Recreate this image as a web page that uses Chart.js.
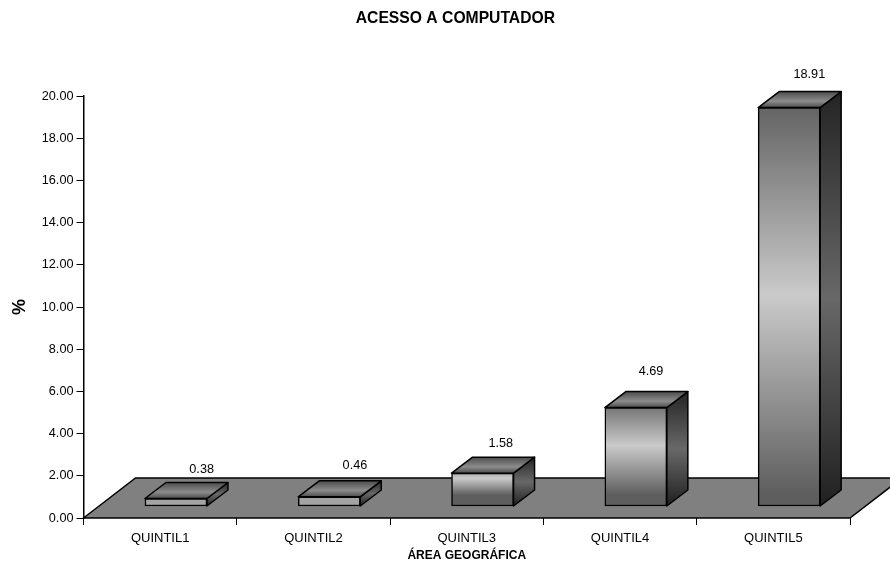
<!DOCTYPE html>
<html>
<head>
<meta charset="utf-8">
<title>Acesso a computador</title>
<script src="https://cdn.jsdelivr.net/npm/chart.js@4/dist/chart.umd.min.js"></script>
<style>
  html, body { margin: 0; padding: 0; background: #fff; }
  #wrap { width: 890px; height: 565px; }
</style>
</head>
<body>
<div id="wrap"><canvas id="quintilChart" width="890" height="565"></canvas></div>
<script>
const categories = ["QUINTIL1", "QUINTIL2", "QUINTIL3", "QUINTIL4", "QUINTIL5"];
const accessValues = [0.38, 0.46, 1.58, 4.69, 18.91];

const FONT = '"Liberation Sans", Arial, sans-serif';

// Oblique projection: bars stand part way back on the floor
const depth = { x: 21, y: -16 };
const barShift = { x: 15.8, y: -11.5 };
const floorDepth = { x: 52, y: -40 };

// Value labels do not sit at one fixed distance from their bars
const labelNudge = [[41.5, -40.5], [41.5, -43], [34, -41.5], [31, -48], [36, -44.5]];

function stops(grad, list) {
    list.forEach(s => grad.addColorStop(s[0], s[1]));
    return grad;
}

function quad(ctx, pts, fill) {
    ctx.beginPath();
    ctx.moveTo(pts[0][0], pts[0][1]);
    for (let i = 1; i < pts.length; i++) ctx.lineTo(pts[i][0], pts[i][1]);
    ctx.closePath();
    ctx.fillStyle = fill;
    ctx.fill();
    ctx.stroke();
}

const barBoxPlugin = {
    id: "barBox",
    afterLayout(chart) {
        // Centre the title a little right of the plot's own middle
        chart.titleBlock.left = 60.8;
    },
    beforeDatasetsDraw(chart) {
        const { ctx, chartArea: a } = chart;
        ctx.save();
        ctx.lineWidth = 1.5;
        ctx.strokeStyle = "#000";
        quad(ctx, [
            [a.left, a.bottom],
            [a.left + floorDepth.x, a.bottom + floorDepth.y],
            [a.right + floorDepth.x, a.bottom + floorDepth.y],
            [a.right, a.bottom]
        ], "#808080");
        ctx.restore();
    },
    beforeDatasetDraw(chart) {
        const ctx = chart.ctx;
        ctx.save();
        ctx.translate(barShift.x, barShift.y);
        ctx.lineWidth = 1.5;
        ctx.strokeStyle = "#000";
        ctx.lineJoin = "round";
        chart.getDatasetMeta(0).data.forEach(bar => {
            const half = bar.width / 2;
            const r = bar.x + half, l = bar.x - half;
            const side = ctx.createLinearGradient(0, bar.y + depth.y, 0, bar.base);
            stops(side, [[0, "#242424"], [0.5, "#686868"], [1, "#202020"]]);
            quad(ctx, [
                [r, bar.y], [r + depth.x, bar.y + depth.y],
                [r + depth.x, bar.base + depth.y], [r, bar.base]
            ], side);
            const top = ctx.createLinearGradient(0, bar.y + depth.y, 0, bar.y);
            stops(top, [[0, "#4c4c4c"], [0.6, "#8c8c8c"], [1, "#4c4c4c"]]);
            quad(ctx, [
                [l, bar.y], [l + depth.x, bar.y + depth.y],
                [r + depth.x, bar.y + depth.y], [r, bar.y]
            ], top);
        });
    },
    afterDatasetDraw(chart) {
        const ctx = chart.ctx;
        ctx.restore();
        ctx.save();
        ctx.font = "12.7px " + FONT;
        ctx.fillStyle = "#000";
        ctx.textAlign = "center";
        ctx.textBaseline = "middle";
        chart.getDatasetMeta(0).data.forEach((bar, i) => {
            ctx.fillText(accessValues[i].toFixed(2), bar.x + labelNudge[i][0], bar.y + labelNudge[i][1]);
        });
        ctx.restore();
    }
};

new Chart(document.getElementById("quintilChart"), {
    type: "bar",
    plugins: [barBoxPlugin],
    data: {
        labels: categories,
        datasets: [{
            data: accessValues,
            barThickness: 62,
            clip: false,
            borderColor: "#000",
            borderWidth: 1.5,
            borderSkipped: false,
            backgroundColor(c) {
                const y = c.chart.scales.y;
                const raw = accessValues[c.dataIndex];
                const from = y ? y.getPixelForValue(raw) : NaN;
                const to = y ? y.getPixelForValue(0) : NaN;
                if (!Number.isFinite(from) || !Number.isFinite(to)) return "#999";
                const g = c.chart.ctx.createLinearGradient(0, from + barShift.y, 0, to + barShift.y);
                // Very low bars only ever show the pale middle of the sheen
                const edge = to - from < 20 ? "#a4a4a4" : "#5e5e5e";
                return stops(g, [[0, edge], [0.5, "#cacaca"], [1, edge]]);
            }
        }]
    },
    options: {
        responsive: false,
        animation: false,
        layout: { padding: { left: 0, right: 40, top: 0, bottom: 0 } },
        plugins: {
            legend: { display: false },
            tooltip: { enabled: false },
            title: {
                display: true,
                text: "ACESSO A COMPUTADOR",
                color: "#000",
                font: { family: FONT, size: 15.7, weight: "bold" },
                padding: { top: 9.5, bottom: 67.7 }
            }
        },
        scales: {
            x: {
                afterFit(s) { s.height = 47; },
                border: { display: false },
                grid: { drawOnChartArea: false, tickLength: 7, color: "#000", lineWidth: 1 },
                ticks: { color: "#000", font: { family: FONT, size: 13 }, padding: 6, maxRotation: 0 },
                title: {
                    display: true,
                    text: "ÁREA GEOGRÁFICA",
                    color: "#000",
                    font: { family: FONT, size: 12, weight: "bold" },
                    padding: { top: 0, bottom: 2 }
                }
            },
            y: {
                min: 0,
                max: 20,
                afterFit(s) { s.width = 83.5; },
                border: { display: true, color: "#000", width: 1.5 },
                grid: { drawOnChartArea: false, tickLength: 7, color: "#000", lineWidth: 1 },
                ticks: {
                    stepSize: 2,
                    color: "#000",
                    font: { family: FONT, size: 12.7 },
                    padding: 3,
                    callback: v => v.toFixed(2)
                },
                title: {
                    display: true,
                    text: "%",
                    color: "#000",
                    font: { family: FONT, size: 18, weight: "bold" },
                    padding: { top: 9, bottom: 0 }
                }
            }
        }
    }
});
</script>
</body>
</html>
